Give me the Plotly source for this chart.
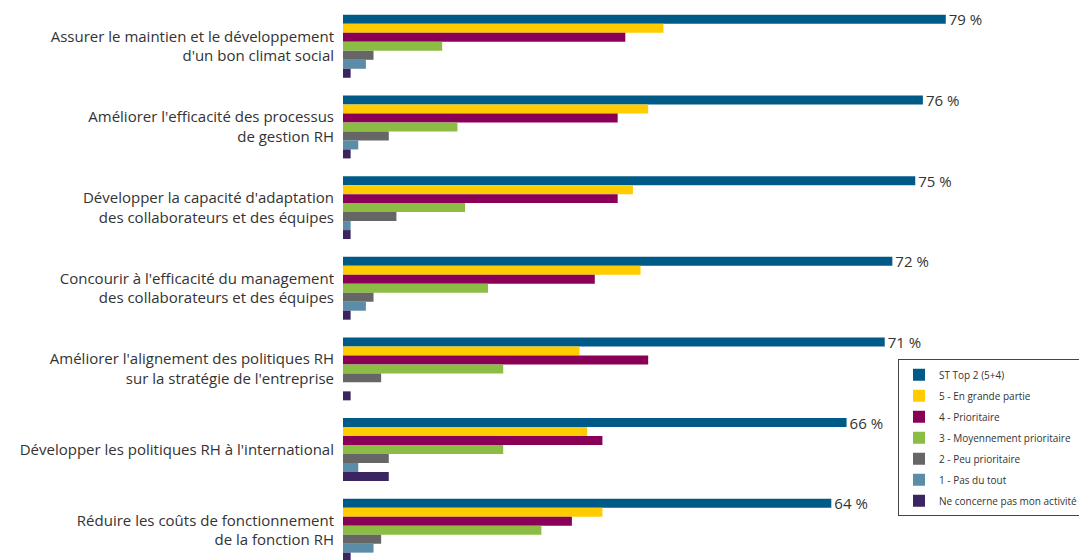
import plotly.graph_objects as go

# Axes, in top-to-bottom order
categories = [
    "Assurer le maintien et le développement<br>d'un bon climat social",
    "Améliorer l'efficacité des processus<br>de gestion RH",
    "Développer la capacité d'adaptation<br>des collaborateurs et des équipes",
    "Concourir à l'efficacité du management<br>des collaborateurs et des équipes",
    "Améliorer l'alignement des politiques RH<br>sur la stratégie de l'entreprise",
    "Développer les politiques RH à l'international",
    "Réduire les coûts de fonctionnement<br>de la fonction RH",
]

series_names = [
    "ST Top 2 (5+4)",
    "5 - En grande partie",
    "4 - Prioritaire",
    "3 - Moyennement prioritaire",
    "2 - Peu prioritaire",
    "1 - Pas du tout",
    "Ne concerne pas mon activité",
]

st_top2 = [79, 76, 75, 72, 71, 66, 64]
en_grande_partie = [42, 40, 38, 39, 31, 32, 34]
prioritaire = [37, 36, 36, 33, 40, 34, 30]
moyennement = [13, 15, 16, 19, 21, 21, 26]
peu_prioritaire = [4, 6, 7, 4, 5, 6, 5]
pas_du_tout = [3, 2, 1, 3, 0, 2, 4]
ne_concerne_pas = [1, 1, 1, 1, 1, 6, 1]

series_values = [st_top2, en_grande_partie, prioritaire, moyennement,
                 peu_prioritaire, pas_du_tout, ne_concerne_pas]
colors = ["#005A87", "#FFCC00", "#8B0057", "#8BBC43", "#666666", "#5B8CA8", "#3B2560"]

FONT = "Open Sans"

fig = go.Figure()
for i, (name, vals, col) in enumerate(zip(series_names, series_values, colors)):
    kw = {}
    if i == 0:
        kw = dict(
            text=vals,
            texttemplate="%{x} %",
            textposition="outside",
            constraintext="none",
            cliponaxis=False,
            outsidetextfont=dict(family=FONT, size=15, color="#333333"),
        )
    fig.add_trace(go.Bar(
        y=categories, x=vals, name=name, orientation="h",
        marker=dict(color=col, line=dict(width=0)),
        legendgroup=name,
        **kw,
    ))

W, H = 1079, 560
left, top = 343, 5.6
plot_w = W - left
plot_h = H - top
px_per_unit = 7.63
band = 80.7

fig.update_layout(
    width=W, height=H,
    margin=dict(l=left, r=0, t=top, b=0, autoexpand=False),
    barmode="group",
    bargap=0.22,
    bargroupgap=0,
    plot_bgcolor="white",
    paper_bgcolor="white",
    font=dict(family=FONT, size=15, color="#333333"),
    showlegend=True,
    legend=dict(
        x=(898 - left) / plot_w, xanchor="left",
        y=(H - 359) / plot_h, yanchor="top",
        bgcolor="white",
        bordercolor="#444444", borderwidth=1,
        font=dict(family=FONT, size=10, color="#333333"),
        traceorder="grouped",
        tracegroupgap=2,
    ),
)
fig.update_xaxes(
    range=[0, plot_w / px_per_unit],
    showgrid=False, zeroline=False, showticklabels=False, showline=False,
)
fig.update_yaxes(
    type="category",
    range=[-0.5 + plot_h / band, -0.5],
    showgrid=False, zeroline=False, showline=False,
    ticks="", ticklabelstandoff=8,
    tickfont=dict(family=FONT, size=15, color="#333333"),
)

fig.write_html("out.html")
